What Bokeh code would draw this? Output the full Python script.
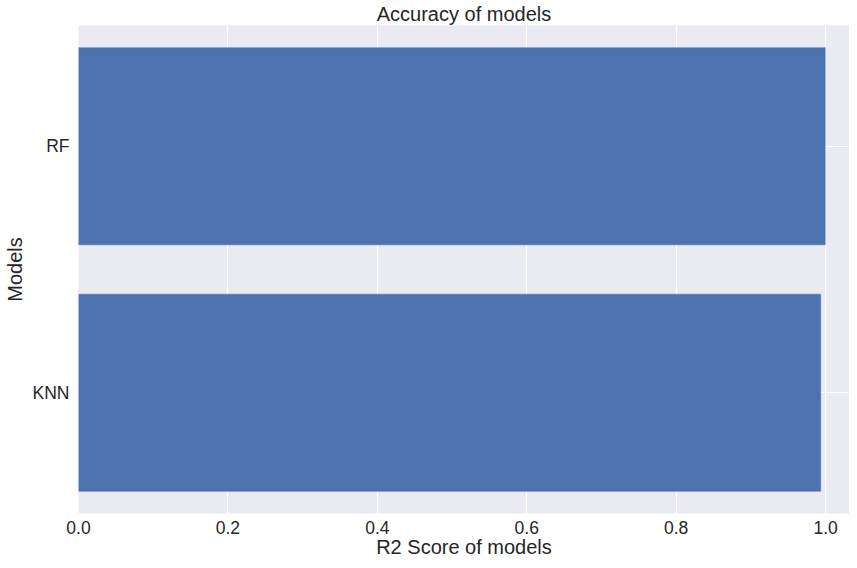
from bokeh.plotting import figure
from bokeh.models import FactorRange, Range1d, FixedTicker, ColumnDataSource
from bokeh.embed import file_html
from bokeh.resources import INLINE

models = ["KNN", "RF"]
r2_scores = [0.9935, 0.9995]
x_ticks = [0.0, 0.2, 0.4, 0.6, 0.8, 1.0]

FONT = "Liberation Sans"
TXT = "#262626"

src = ColumnDataSource(dict(model=models, score=r2_scores))

p = figure(width=849, height=560, output_backend="svg", toolbar_location=None,
           y_range=FactorRange(*models, range_padding=-0.01, range_padding_units="percent"),
           x_range=Range1d(0, 1.032),
           title="Accuracy of models",
           min_border_left=73, min_border_right=0, min_border_top=25, min_border_bottom=0)

p.hbar(y="model", right="score", left=0, height=0.8, source=src,
       fill_color="#4c72b0", line_color="#4c72b0", line_width=0.5)

p.background_fill_color = "#eaeaf2"
p.border_fill_color = "white"
p.outline_line_color = None

p.title.align = "center"
p.title.text_font = FONT
p.title.text_font_size = "20px"
p.title.text_font_style = "normal"
p.title.text_color = TXT
p.title.offset = 0
p.title.standoff = 1

p.xaxis.ticker = FixedTicker(ticks=x_ticks)
p.xaxis.major_label_overrides = {t: f"{t:.1f}" for t in x_ticks}
p.xaxis.axis_label = "R2 Score of models"
p.yaxis.axis_label = "Models"

for ax in (p.xaxis, p.yaxis):
    ax.axis_line_color = None
    ax.major_tick_line_color = None
    ax.minor_tick_line_color = None
    ax.major_tick_out = 0
    ax.major_tick_in = 0
    ax.major_label_text_font = FONT
    ax.major_label_text_font_size = "17.5px"
    ax.major_label_text_color = TXT
    ax.axis_label_text_font = FONT
    ax.axis_label_text_font_size = "20px"
    ax.axis_label_text_font_style = "normal"
    ax.axis_label_text_color = TXT

p.xaxis.major_label_standoff = 7
p.xaxis.axis_label_standoff = -1
p.yaxis.major_label_standoff = 9
p.yaxis.axis_label_standoff = 4

p.xgrid.grid_line_color = "white"
p.xgrid.grid_line_width = 1.2
p.ygrid.grid_line_color = "white"
p.ygrid.grid_line_width = 1.2
p.ygrid.level = "underlay"
p.xgrid.level = "underlay"

open("out.html", "w").write(file_html(p, INLINE))
